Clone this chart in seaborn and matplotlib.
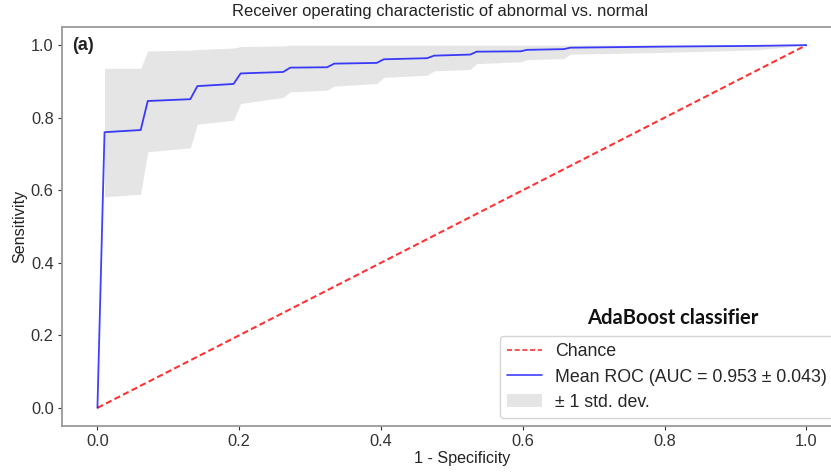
import numpy as np
import pandas as pd
import matplotlib
matplotlib.use("Agg")
import matplotlib.pyplot as plt
from matplotlib.lines import Line2D
from matplotlib.patches import Patch
import seaborn as sns

# Mean ROC curve vertices (false positive rate, true positive rate)
mean_fpr = [0.000, 0.010, 0.061, 0.071, 0.131, 0.141, 0.192, 0.202, 0.262, 0.272,
            0.324, 0.334, 0.394, 0.404, 0.465, 0.475, 0.526, 0.535, 0.597, 0.606,
            0.658, 0.667, 0.800, 0.930, 1.000]
mean_tpr = [0.000, 0.760, 0.766, 0.846, 0.851, 0.887, 0.893, 0.922, 0.926, 0.938,
            0.939, 0.949, 0.951, 0.961, 0.964, 0.971, 0.974, 0.982, 0.983, 0.987,
            0.989, 0.993, 0.996, 0.998, 1.000]

# +/- 1 standard deviation band
band_fpr = [0.010, 0.061, 0.071, 0.131, 0.141, 0.192, 0.202, 0.262, 0.272, 0.324,
            0.334, 0.394, 0.404, 0.465, 0.475, 0.526, 0.535, 0.597, 0.606, 0.658,
            0.667, 0.800, 0.930, 1.000]
band_lower = [0.582, 0.589, 0.706, 0.717, 0.782, 0.793, 0.839, 0.856, 0.871, 0.876,
              0.887, 0.894, 0.911, 0.917, 0.929, 0.933, 0.949, 0.954, 0.960, 0.963,
              0.975, 0.980, 0.987, 1.000]
band_upper = [0.936, 0.936, 0.984, 0.986, 0.988, 0.992, 0.996, 0.998, 1.000, 1.000,
              1.000, 1.000, 1.000, 1.000, 1.000, 1.000, 1.000, 1.000, 1.000, 1.000,
              1.000, 1.000, 1.000, 1.000]

chance_x = [0.0, 1.0]
chance_y = [0.0, 1.0]

mean_auc = 0.953
std_auc = 0.043

title = "Receiver operating characteristic of abnormal vs. normal"
xlabel = "1 - Specificity"
ylabel = "Sensitivity"
panel_tag = "(a)"
model_name = "AdaBoost classifier"
ticks = [0.0, 0.2, 0.4, 0.6, 0.8, 1.0]

BLUE = "#0000ff"
RED = "#ff0000"

sns.set_theme(style="white", color_codes=False)
plt.rcParams["font.family"] = ["Liberation Sans", "DejaVu Sans"]

W, H = 831, 472
fig = plt.figure(figsize=(W / 100, H / 100), dpi=100)
# plot area runs past the right edge of the canvas, so its right frame is cut off
left_px, right_px, top_px, bottom_px = 62, 863, 27, 426
ax = fig.add_axes([left_px / W, 1 - bottom_px / H,
                   (right_px - left_px) / W, (bottom_px - top_px) / H])

chance_df = pd.DataFrame({"fpr": chance_x, "tpr": chance_y})
mean_df = pd.DataFrame({"fpr": mean_fpr, "tpr": mean_tpr})

sns.lineplot(data=chance_df, x="fpr", y="tpr", ax=ax, color=RED, alpha=0.8,
             lw=1.5, dashes=False, sort=False, estimator=None)
ax.lines[-1].set_dashes((3, 1.6))
sns.lineplot(data=mean_df, x="fpr", y="tpr", ax=ax, color=BLUE, alpha=0.75,
             lw=1.3, sort=False, estimator=None)
ax.fill_between(band_fpr, band_lower, band_upper, color="grey", alpha=0.2, lw=0)

ax.set_xlim(-0.05, 1.08)
ax.set_ylim(-0.05, 1.05)
ax.set_xticks(ticks)
ax.set_yticks(ticks)
ax.set_xticklabels([f"{t:.1f}" for t in ticks])
ax.set_yticklabels([f"{t:.1f}" for t in ticks])
ax.tick_params(axis="both", labelsize=11.8, colors="#333333", length=3,
               width=0.8, direction="out", bottom=True, left=True, pad=3)
for t in ax.get_xticklines() + ax.get_yticklines():
    t.set_color("#999999")
for s in ax.spines.values():
    s.set_color("#9a9a9a")
    s.set_linewidth(1.3)
ax.spines["right"].set_visible(False)

ax.set_xlabel(xlabel, fontsize=11.6, color="#222222", labelpad=1)
ax.set_ylabel(ylabel, fontsize=11.6, color="#222222", labelpad=2.5)
ax.set_title(title, fontsize=11.9, color="#222222", pad=8,
             x=(440 - left_px) / (right_px - left_px))

fig.text(72 / W, 1 - 45 / H, panel_tag, fontsize=13, fontweight="bold",
         ha="left", va="center", color="#222222")
fig.text(673 / W, 1 - 318 / H, model_name, fontsize=14.5, fontweight="bold",
         ha="center", va="center", color="#111111",
         family=["Lato", "DejaVu Sans"])

handles = [
    Line2D([], [], color=RED, alpha=0.8, lw=1.2, dashes=(3, 1.6)),
    Line2D([], [], color=BLUE, alpha=0.75, lw=1.2),
    Patch(facecolor="grey", alpha=0.2, edgecolor="none"),
]
labels = [
    "Chance",
    f"Mean ROC (AUC = {mean_auc:.3f} \u00b1 {std_auc:.3f})",
    "\u00b1 1 std. dev.",
]
fig.legend(handles, labels, loc="lower right",
           bbox_to_anchor=(834 / W, 1 - 418 / H), bbox_transform=fig.transFigure,
           borderaxespad=0, fontsize=12.8, labelspacing=0.47, borderpad=0.4,
           handlelength=2.0, handletextpad=0.72, frameon=True,
           edgecolor="#d6d6d6", fancybox=True, framealpha=1.0)

fig.savefig("out.png", dpi=100)
